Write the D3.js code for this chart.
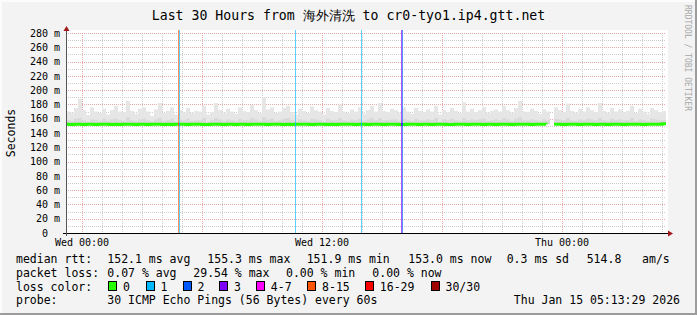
<!DOCTYPE html>
<html>
<head>
<meta charset="utf-8">
<script src="https://cdn.jsdelivr.net/npm/d3@7"></script>
<style>
html,body{margin:0;padding:0;background:#f3f3f3;}
svg{display:block;}
text{font-family:"DejaVu Sans Mono",monospace;white-space:pre;}
</style>
</head>
<body>
<div id="chart"></div>
<script>
// one value per 12 minute step, starting Tue 23:13:29 (ms)
const smokeTop=[170,168,175,188,172,165,176,170,168,174,
166,172,178,170,169,185,171,167,174,176,
170,164,173,182,168,171,176,166,172,169,
175,168,171,170,178,166,169,182,172,168,
174,170,167,176,171,169,179,172,168,190,
173,176,168,170,175,178,169,166,174,171,
168,177,172,170,166,175,171,169,180,170,
168,173,170,176,167,172,178,170,182,171,
169,174,172,168,176,170,167,175,171,169,
173,170,178,166,172,169,175,171,168,183,
170,174,169,172,176,168,171,173,170,178,
172,168,175,185,170,169,174,171,167,173,
170,null,176,172,169,181,171,168,174,170,
176,172,169,182,171,168,175,170,173,169,
171,178,168,174,170,167,175,172,169,171];
const smokeMid=[158,157,160,161,158,156,159,158,157,160,
157,159,160,158,157,162,158,157,159,160,
158,156,159,161,157,158,160,156,159,158,
160,157,158,158,161,156,158,161,159,157,
159,158,157,160,158,158,161,159,157,162,
159,160,157,158,160,161,158,156,159,158,
157,160,159,158,156,160,158,158,161,158,
157,159,158,160,157,159,161,158,161,158,
158,159,159,157,160,158,157,160,158,158,
159,158,161,156,159,158,160,158,157,161,
158,159,158,159,160,157,158,159,158,161,
159,157,160,162,158,158,159,158,157,159,
158,null,160,159,158,161,158,157,159,158,
160,159,158,161,158,157,160,158,159,158,
158,161,157,159,158,157,160,159,158,158];
const median=[152.1,152.0,152.2,152.1,151.8,152.1,152.2,152.0,152.1,152.1,
152.2,151.9,152.1,152.0,152.1,152.3,152.1,151.8,152.1,152.2,
152.0,152.1,152.1,152.2,152.0,152.1,151.9,152.1,152.4,152.1,
152.0,152.1,152.2,152.1,152.0,151.9,152.1,152.2,152.1,152.0,
152.1,152.1,151.8,152.2,152.1,152.0,152.1,152.2,152.1,152.1,
152.0,152.1,152.2,152.1,151.9,152.1,152.0,152.2,152.1,152.1,
152.1,152.0,152.1,152.2,152.1,151.8,152.1,152.0,152.1,152.2,
152.1,152.1,152.0,152.2,152.1,152.0,152.1,152.1,152.2,152.0,
152.1,152.2,152.1,152.0,151.9,152.1,152.1,152.2,152.0,152.1,
152.1,152.0,152.2,152.1,152.1,152.0,151.8,152.1,152.2,152.1,
152.0,152.1,152.1,152.2,152.0,152.1,152.1,152.0,152.2,152.1,
152.1,152.0,152.1,152.2,152.1,152.1,152.0,152.1,152.1,152.2,
152.1,null,152.2,152.1,152.0,152.1,152.2,152.1,152.0,152.1,
152.1,152.2,152.0,152.1,152.1,152.0,152.2,152.1,152.1,152.0,
152.1,152.2,152.1,152.1,152.0,152.1,152.2,152.1,152.2,153.0];

// loss events on Wednesday (hour, minute, lost pings of 30)
const lossTimes=[[4,50],[4,54],[10,42],[14,0],[16,0],[16,3]];
const lossCounts=[10,1,1,1,3,2];

const lossLabels=["0","1","2","3","4-7","8-15","16-29","30/30"];
const lossColors=["#26ff00","#00b8ff","#0059ff","#7e00ff","#ff00ff","#ff5500","#ff0000","#a00000"];

const yTicks=[0,20,40,60,80,100,120,140,160,180,200,220,240,260,280];

const legendRtt=["median rtt:","152.1 ms avg","155.3 ms max","151.9 ms min","153.0 ms now","0.3 ms sd","514.8   am/s"];
const legendLoss=["packet loss:","0.07 % avg","29.54 % max","0.00 % min","0.00 % now"];
const probeText="30 ICMP Echo Pings (56 Bytes) every 60s";
const stampText="Thu Jan 15 05:13:29 2026";
const titleText="Last 30 Hours from 海外清洗 to cr0-tyo1.ip4.gtt.net";

const W=697,H=315;
const plot={left:66,right:666,top:33,bottom:233};
const stepMin=12;
const tStart=new Date(2026,0,13,23,13,29);
const tEnd=new Date(2026,0,15,5,13,29);

const x=d3.scaleTime().domain([tStart,tEnd]).range([plot.left,plot.right]);
const y=d3.scaleLinear().domain([0,280]).range([plot.bottom,plot.top]);
const bucketTime=i=>d3.timeMinute.offset(tStart,i*stepMin);

function lossColor(n){
    if(n==0) return lossColors[0];
    if(n<=3) return lossColors[n];
    if(n<=7) return lossColors[4];
    if(n<=15) return lossColors[5];
    if(n<=29) return lossColors[6];
    return lossColors[7];
}
// loss lines are drawn as a faded version of the loss colour
const fadeColor=c=>d3.interpolateRgb(c,"#ffffff")(0.35);

const svg=d3.select("#chart").append("svg")
    .attr("width",W).attr("height",H);

// background and frame
svg.append("rect").attr("width",W).attr("height",H).attr("fill","#f3f3f3");
svg.append("rect").attr("x",66).attr("y",30).attr("width",602).attr("height",203).attr("fill","#fff");
svg.append("path").attr("d","M0,1H"+(W-1)+"M1,0V"+(H-1)).attr("stroke","#fcfcfc").attr("stroke-width",2);
svg.append("path").attr("d","M"+(W-1)+",0V"+H+"M0,"+(H-1)+"H"+W).attr("stroke","#9c9c9c").attr("stroke-width",2);

// grid
const grid=svg.append("g").attr("class","grid").attr("stroke-width",1).attr("stroke-dasharray","1,1");
const minorY=d3.range(10,281,20);
grid.selectAll(".hMinor").data(minorY).join("line")
    .attr("x1",plot.left).attr("x2",plot.right)
    .attr("y1",d=>Math.round(y(d))+0.5).attr("y2",d=>Math.round(y(d))+0.5)
    .attr("stroke","#cdcdcd");
const hours=d3.timeHour.range(tStart,tEnd);
grid.selectAll(".vMinor").data(hours.filter(d=>d.getHours()%6!=0)).join("line")
    .attr("x1",d=>Math.round(x(d))+0.5).attr("x2",d=>Math.round(x(d))+0.5)
    .attr("y1",plot.top).attr("y2",plot.bottom)
    .attr("stroke","#cdcdcd");
grid.selectAll(".hMajor").data(yTicks.slice(1)).join("line")
    .attr("x1",plot.left).attr("x2",plot.right)
    .attr("y1",d=>Math.round(y(d))+0.5).attr("y2",d=>Math.round(y(d))+0.5)
    .attr("stroke","#eaa8a8");
grid.selectAll(".vMajor").data(hours.filter(d=>d.getHours()%6==0)).join("line")
    .attr("x1",d=>Math.round(x(d))+0.5).attr("x2",d=>Math.round(x(d))+0.5)
    .attr("y1",plot.top).attr("y2",plot.bottom)
    .attr("stroke","#eaa8a8");

// smoke
const buckets=median.map((m,i)=>({i:i,m:m,top:smokeTop[i],mid:smokeMid[i]})).filter(d=>d.m!=null);
const smokeG=svg.append("g");
smokeG.selectAll(".smokeTop").data(buckets).join("rect")
    .attr("x",d=>x(bucketTime(d.i)))
    .attr("width",d=>x(bucketTime(d.i+1))-x(bucketTime(d.i)))
    .attr("y",d=>y(d.top))
    .attr("height",d=>y(d.m)-y(d.top))
    .attr("fill","#e6e6e6");
smokeG.selectAll(".smokeMid").data(buckets).join("rect")
    .attr("x",d=>x(bucketTime(d.i)))
    .attr("width",d=>x(bucketTime(d.i+1))-x(bucketTime(d.i)))
    .attr("y",d=>y(d.mid))
    .attr("height",d=>y(d.m)-y(d.mid))
    .attr("fill","#d9d9d9");

// loss lines over the full height
const lossEvents=lossTimes.map((t,k)=>({t:new Date(2026,0,14,t[0],t[1]),n:lossCounts[k]}));
svg.append("g").selectAll("rect").data(lossEvents).join("rect")
    .attr("x",d=>Math.floor(x(d.t)))
    .attr("width",1)
    .attr("y",plot.top-3).attr("height",plot.bottom-plot.top+3)
    .attr("fill",d=>fadeColor(lossColor(d.n)));

// median line
const pts=[];
median.forEach((m,i)=>{pts.push({t:bucketTime(i),m:m});});
pts.push({t:tEnd,m:median[median.length-1]});
const medLine=d3.line()
    .defined(d=>d.m!=null)
    .x(d=>x(d.t)).y(d=>y(d.m))
    .curve(d3.curveStepAfter);
svg.append("path").datum(pts)
    .attr("d",medLine)
    .attr("fill","none")
    .attr("stroke",lossColors[0])
    .attr("stroke-width",3);
svg.append("g").selectAll("rect").data(lossEvents).join("rect")
    .attr("x",d=>Math.floor(x(d.t)))
    .attr("width",1)
    .attr("y",y(152.2)-1.5).attr("height",3)
    .attr("fill",d=>lossColor(d.n));

// axes
const yAxis=d3.axisLeft(y).tickValues(yTicks).tickSize(0).tickPadding(6)
    .tickFormat(d=>d==0?"0  ":d+" m");
svg.append("g").attr("transform","translate("+plot.left+",0)").call(yAxis)
    .call(g=>g.select(".domain").remove())
    .selectAll("text").attr("font-size",10).attr("font-family","DejaVu Sans Mono").attr("fill","#000");

const xTicks=[new Date(2026,0,14,0),new Date(2026,0,14,12),new Date(2026,0,15,0)];
const xAxis=d3.axisBottom(x).tickValues(xTicks).tickSize(0).tickPadding(6)
    .tickFormat(d3.timeFormat("%a %H:%M"));
svg.append("g").attr("transform","translate(0,"+(plot.bottom-0.5)+")").call(xAxis)
    .call(g=>g.select(".domain").remove())
    .selectAll("text").attr("font-size",10).attr("font-family","DejaVu Sans Mono").attr("fill","#000");

svg.append("line").attr("x1",63).attr("x2",669).attr("y1",233.5).attr("y2",233.5).attr("stroke","#000");
svg.append("line").attr("x1",66.5).attr("x2",66.5).attr("y1",236).attr("y2",30).attr("stroke","#555");
svg.append("path").attr("d","M668,230.5L673,233.5L668,236.5Z").attr("fill","#a01818");
svg.append("path").attr("d","M63.5,31L66.5,26L69.5,31Z").attr("fill","#a01818");

// titles
svg.append("text").attr("x",W/2).attr("y",19.5).attr("text-anchor","middle")
    .attr("font-size",13.2).attr("fill","#000").text(titleText);
svg.append("text").attr("transform","translate(15,133) rotate(-90)").attr("text-anchor","middle")
    .attr("font-size",11.5).attr("fill","#000").text("Seconds");
svg.append("text").attr("transform","translate(685,5) rotate(90)")
    .attr("font-size",8).attr("fill","#a8a8a8").text("RRDTOOL / TOBI OETIKER");

// legend
const rowY=[263,276.8,290.5,304.2];
const leg=svg.append("g").attr("font-size",11.5).attr("fill","#000");
const rttX=[16,107.3,207.3,306.7,408.3,506.7,586.7];
leg.selectAll(".rtt").data(legendRtt).join("text")
    .attr("x",(d,i)=>rttX[i]).attr("y",rowY[0]).text(d=>d);
const lossX=[16,107.3,193.3,286,372.3];
leg.selectAll(".loss").data(legendLoss).join("text")
    .attr("x",(d,i)=>lossX[i]).attr("y",rowY[1]).text(d=>d);
leg.append("text").attr("x",16).attr("y",rowY[2]).text("loss color:");
const swX=[108.3,145.7,182.7,219.3,256,307.3,365,430.7];
const sw=leg.selectAll(".sw").data(lossLabels).join("g");
sw.append("rect")
    .attr("x",(d,i)=>Math.round(swX[i])+0.5).attr("y",281.5)
    .attr("width",8).attr("height",9)
    .attr("fill",(d,i)=>lossColors[i]).attr("stroke","#000");
sw.append("text")
    .attr("x",(d,i)=>swX[i]+14.8).attr("y",rowY[2]).text(d=>d);
leg.append("text").attr("x",16).attr("y",rowY[3]).text("probe:");
leg.append("text").attr("x",107.3).attr("y",rowY[3]).text(probeText);
leg.append("text").attr("x",680).attr("y",rowY[3]).attr("text-anchor","end").text(stampText);
</script>
</body>
</html>
